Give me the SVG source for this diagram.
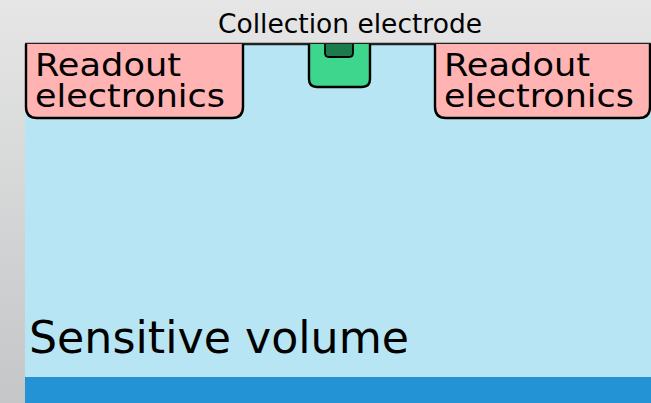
<svg xmlns="http://www.w3.org/2000/svg" width="651" height="403" viewBox="0 0 651 403">
<defs>
<linearGradient id="bg" x1="0" y1="0" x2="0" y2="1">
<stop offset="0" stop-color="#e6e6e6"/>
<stop offset="1" stop-color="#c4c6c7"/>
</linearGradient>
<style>
text{font-family:"DejaVu Sans","Liberation Sans",sans-serif;fill:#000}
.box{fill:#ffb3b3;stroke:#000;stroke-width:2.4}
.lbl{font-size:32px}
</style>
</defs>
<rect width="651" height="403" fill="url(#bg)"/>
<g id="sensitive-volume">
<rect x="25" y="44" width="626" height="334" fill="#b8e5f3"/>
<rect x="25" y="377" width="626" height="26" fill="#2393d5"/>
<line x1="25" y1="44" x2="651" y2="44" stroke="#222" stroke-width="2.4"/>
<text x="29" y="353" font-size="44" textLength="380" lengthAdjust="spacingAndGlyphs">Sensitive volume</text>
</g>
<g id="readout-left">
<path class="box" d="M26,44 V107 Q26,118 37,118 H232 Q243,118 243,107 V44"/>
<text class="lbl" x="35" y="76" textLength="146" lengthAdjust="spacingAndGlyphs">Readout</text>
<text class="lbl" x="35" y="107" textLength="190" lengthAdjust="spacingAndGlyphs">electronics</text>
</g>
<g id="readout-right">
<path class="box" d="M435,44 V107 Q435,118 446,118 H639 Q650,118 650,107 V44"/>
<text class="lbl" x="444" y="76" textLength="146" lengthAdjust="spacingAndGlyphs">Readout</text>
<text class="lbl" x="444" y="107" textLength="190" lengthAdjust="spacingAndGlyphs">electronics</text>
</g>
<g id="collection-electrode">
<path d="M309,44 V79 Q309,87 317,87 H362 Q370,87 370,79 V44" fill="#3dd68c" stroke="#000" stroke-width="2.4"/>
<path d="M325,44 V53 Q325,57 329,57 H349 Q353,57 353,53 V44" fill="#1d7a4a" stroke="#000" stroke-width="1.8"/>
<text x="218" y="33" font-size="26" textLength="264" lengthAdjust="spacingAndGlyphs" fill="#111">Collection electrode</text>
</g>
</svg>
